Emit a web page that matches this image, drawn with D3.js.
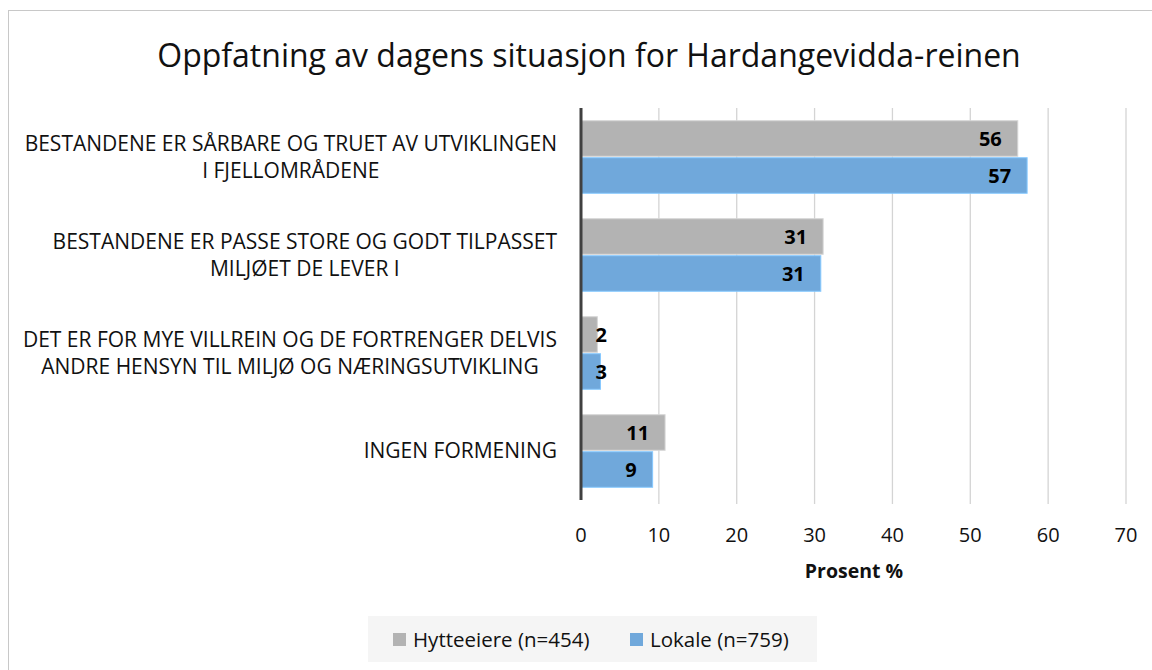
<!DOCTYPE html>
<html>
<head>
<meta charset="utf-8">
<script src="https://cdn.jsdelivr.net/npm/d3@7"></script>
<style>
  body { margin: 0; background: #fff; }
  text { font-family: "Open Sans", sans-serif; }
</style>
</head>
<body>
<svg id="chart" width="1152" height="670"></svg>
<script>
// --- data
const categories = [
    ["BESTANDENE ER SÅRBARE OG TRUET AV UTVIKLINGEN", "I FJELLOMRÅDENE"],
    ["BESTANDENE ER PASSE STORE OG GODT TILPASSET", "MILJØET DE LEVER I"],
    ["DET ER FOR MYE VILLREIN OG DE FORTRENGER DELVIS", "ANDRE HENSYN TIL MILJØ OG NÆRINGSUTVIKLING"],
    ["INGEN FORMENING"]
]
const seriesNames = ["Hytteeiere (n=454)", "Lokale (n=759)"]
const hytteeiere = [56.1, 31.1, 2.1, 10.8]
const lokale = [57.3, 30.8, 2.5, 9.2]
const xTicks = [0, 10, 20, 30, 40, 50, 60, 70]
const colors = ["#b3b3b3", "#70a8db"]

const svg = d3.select("#chart")

// outer border of the chart area
svg.append("rect")
    .attr("x", 8.5).attr("y", 10.5)
    .attr("width", 1200).attr("height", 700)
    .attr("fill", "none")
    .attr("stroke", "#c8c8c8")

svg.append("text")
    .attr("x", 589).attr("y", 67)
    .attr("text-anchor", "middle")
    .attr("font-size", 32)
    .attr("fill", "#111")
    .text("Oppfatning av dagens situasjon for Hardangevidda-reinen")

const x = d3.scaleLinear().domain([0, 70]).range([581, 1126])
const y = d3.scaleBand().domain(d3.range(categories.length))
    .range([108, 500]).paddingInner(0.26).paddingOuter(0.13)
const ySub = d3.scaleBand().domain([0, 1]).range([0, y.bandwidth()]).paddingInner(0.04)

// gridlines
svg.append("g").selectAll("line")
    .data(xTicks.filter(t => t > 0))
    .join("line")
    .attr("x1", d => x(d)).attr("x2", d => x(d))
    .attr("y1", 108).attr("y2", 504)
    .attr("stroke", "#d4d4d4")
    .attr("stroke-width", 1.3)

// bars
const series = [hytteeiere, lokale]
series.forEach((vals, s) => {
    const g = svg.append("g")
    g.selectAll("rect")
        .data(vals)
        .join("rect")
        .attr("x", x(0))
        .attr("y", (d, i) => y(i) + ySub(s))
        .attr("width", d => x(d) - x(0))
        .attr("height", ySub.bandwidth())
        .attr("fill", colors[s])
        .attr("stroke", d3.color(colors[s]).brighter(0.5))
        .attr("stroke-width", 1)

    g.selectAll("text")
        .data(vals)
        .join("text")
        .attr("x", d => Math.max(x(d) - 16, x(0) + 26))
        .attr("y", (d, i) => y(i) + ySub(s) + ySub.bandwidth() / 2 + 7)
        .attr("text-anchor", "end")
        .attr("font-size", 20)
        .attr("font-weight", "bold")
        .attr("fill", "#000")
        .text(d => Math.round(d))
})

// vertical axis line
svg.append("line")
    .attr("x1", x(0)).attr("x2", x(0))
    .attr("y1", 108).attr("y2", 500)
    .attr("stroke", "#404040")
    .attr("stroke-width", 3)

// category labels: block right-aligned, lines centred within block
const labelRight = 557
categories.forEach((lines, i) => {
    const g = svg.append("g")
    const texts = g.selectAll("text")
        .data(lines)
        .join("text")
        .attr("font-size", 21)
        .attr("fill", "#111")
        .attr("text-anchor", "middle")
        .text(d => d)
    const maxW = d3.max(texts.nodes(), n => n.getComputedTextLength())
    const lineH = 27
    const cy = y(i) + y.bandwidth() / 2
    const top = cy - (lines.length - 1) * lineH / 2
    texts.attr("x", labelRight - maxW / 2)
        .attr("y", (d, k) => top + k * lineH + 7)
})

// x tick labels
svg.append("g").selectAll("text")
    .data(xTicks)
    .join("text")
    .attr("x", d => x(d))
    .attr("y", 542)
    .attr("text-anchor", "middle")
    .attr("font-size", 20)
    .attr("fill", "#111")
    .text(d => d)

svg.append("text")
    .attr("x", 854).attr("y", 578)
    .attr("text-anchor", "middle")
    .attr("font-size", 19.5)
    .attr("font-weight", "bold")
    .attr("fill", "#111")
    .text("Prosent %")

// legend
svg.append("rect")
    .attr("x", 368).attr("y", 616)
    .attr("width", 449).attr("height", 46)
    .attr("fill", "#f5f5f5")

const legendX = [393, 630]
seriesNames.forEach((name, s) => {
    svg.append("rect")
        .attr("x", legendX[s]).attr("y", 633)
        .attr("width", 13).attr("height", 13)
        .attr("fill", colors[s])
    svg.append("text")
        .attr("x", legendX[s] + 20).attr("y", 647)
        .attr("font-size", 20.5)
        .attr("fill", "#111")
        .text(name)
})
</script>
</body>
</html>
